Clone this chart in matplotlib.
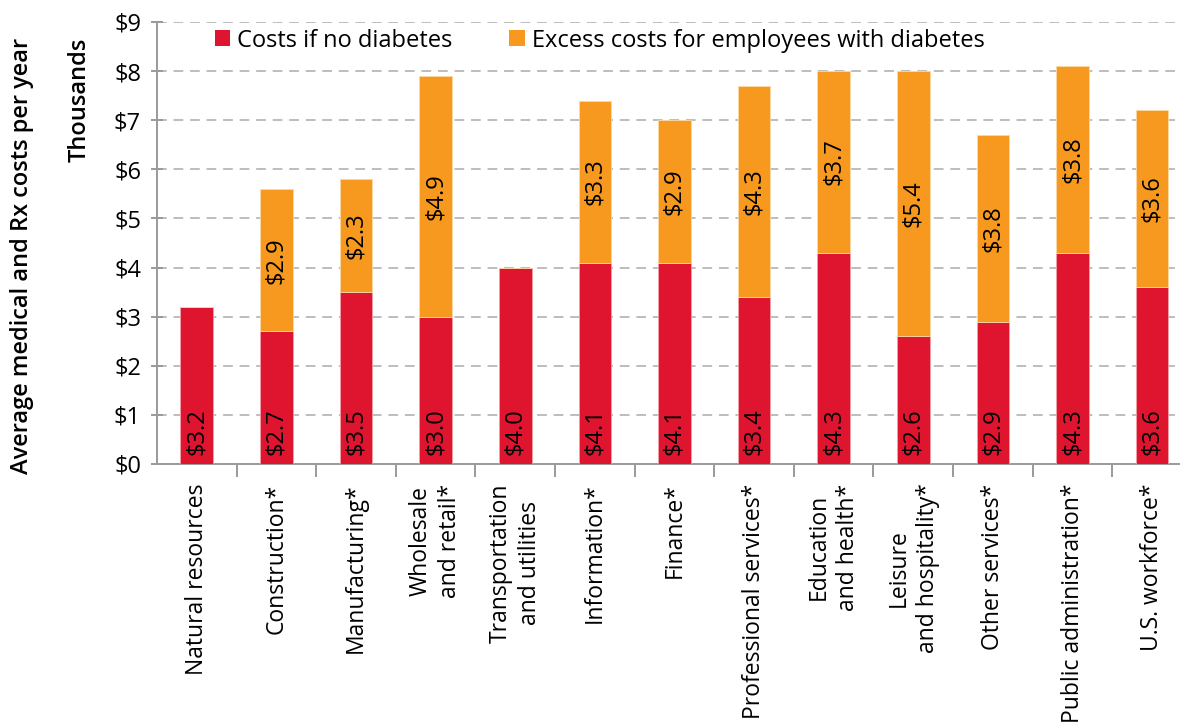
import numpy as np
import matplotlib.pyplot as plt
from matplotlib.patches import Patch

industries = [
    "Natural resources", "Construction*", "Manufacturing*", "Wholesale\nand retail*",
    "Transportation\nand utilities", "Information*", "Finance*", "Professional services*",
    "Education\nand health*", "Leisure\nand hospitality*", "Other services*",
    "Public administration*", "U.S. workforce*",
]
base_costs = [3.2, 2.7, 3.5, 3.0, 4.0, 4.1, 4.1, 3.4, 4.3, 2.6, 2.9, 4.3, 3.6]
excess_costs = [0, 2.9, 2.3, 4.9, 0, 3.3, 2.9, 4.3, 3.7, 5.4, 3.8, 3.8, 3.6]
y_ticks = list(range(0, 10))

RED = "#DF1530"
ORANGE = "#F7991F"
GRID = "#BDBDBD"
AXIS = "#9A9A9A"

plt.rcParams["font.family"] = ["Open Sans", "DejaVu Sans"]

fig = plt.figure(figsize=(11.8, 7.24), dpi=100)
ax = fig.add_axes([157 / 1180, 260 / 724, 1023 / 1180, 442 / 724])

x = np.arange(len(industries))
w = 0.41
ax.bar(x, base_costs, width=w, color=RED, edgecolor="#F3A0AA", linewidth=0.6, zorder=3)
ax.bar(x, excess_costs, width=w, bottom=base_costs, color=ORANGE,
       edgecolor="#FBD9A8", linewidth=0.6, zorder=3)

# value labels: red at the foot of each bar, orange centred in its segment
for i, (b, e) in enumerate(zip(base_costs, excess_costs)):
    ax.text(i, 0.18, f"${b:.1f}", rotation=90, ha="center", va="bottom",
            fontsize=17, color="black", zorder=4)
    if e > 0:
        ax.text(i, b + e / 2, f"${e:.1f}", rotation=90, ha="center", va="center",
                fontsize=17, color="black", zorder=4)

ax.set_xlim(-0.5, 12.35)
ax.set_ylim(0, 9)
ax.set_yticks(y_ticks)
ax.set_yticklabels([f"${v}" for v in y_ticks], fontsize=17)
ax.yaxis.grid(True, linestyle=(0, (5, 3.5)), color=GRID, linewidth=1.4, zorder=0)

ax.set_xticks(x)
ax.set_xticklabels(industries, rotation=90, fontsize=16.5, va="top", ha="center",
                   multialignment="center", linespacing=1.3)
ax.set_xticks(x[:-1] + 0.5, minor=True)
ax.tick_params(axis="x", which="major", length=0, pad=14)
ax.tick_params(axis="x", which="minor", length=9, width=1.4, color=AXIS, direction="out")
ax.tick_params(axis="y", length=9, width=1.4, color=AXIS, direction="inout", pad=7)

for side in ("top", "right"):
    ax.spines[side].set_visible(False)
for side in ("left", "bottom"):
    ax.spines[side].set_color(AXIS)
    ax.spines[side].set_linewidth(1.4)

fig.text(22 / 1180, 1 - 38 / 724, "Average medical and Rx costs per year", rotation=90,
         ha="center", va="top", fontsize=17, fontweight="semibold")
fig.text(80 / 1180, 1 - 38 / 724, "Thousands", rotation=90,
         ha="center", va="top", fontsize=17, fontweight="semibold")

handles = [Patch(facecolor=RED), Patch(facecolor=ORANGE)]
ax.legend(handles, ["Costs if no diabetes", "Excess costs for employees with diabetes"],
          loc="upper left", bbox_to_anchor=(0.045, 1.012), ncol=2, frameon=False,
          fontsize=17, borderpad=0, handlelength=0.65, handleheight=0.65,
          handletextpad=0.3, columnspacing=2.4)

fig.savefig("out.png", dpi=100)
